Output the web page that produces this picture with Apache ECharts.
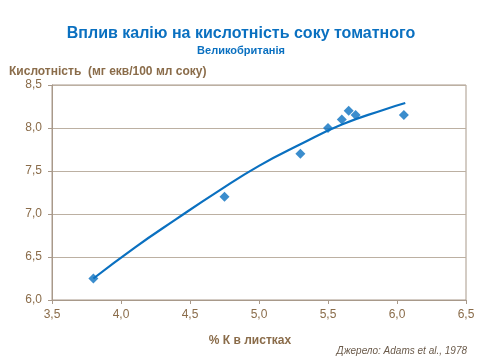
<!DOCTYPE html>
<html><head><meta charset="utf-8">
<script src="https://cdn.jsdelivr.net/npm/echarts@6/dist/echarts.min.js"></script>
<style>html,body{margin:0;padding:0;background:#fff}#c{width:480px;height:360px}</style>
</head><body><div id="c"></div>
<script>
var titleText = 'Вплив калію на кислотність соку томатного';
var subtitleText = 'Великобританія';
var yAxisName = 'Кислотність  (мг екв/100 мл соку)';
var xAxisName = '% К в листках';
var sourceText = 'Джерело: Adams et al., 1978';

var pointsK = [3.8, 4.75, 5.3, 5.5, 5.6, 5.65, 5.7, 6.05];
var pointsAcid = [6.25, 7.2, 7.7, 8.0, 8.1, 8.2, 8.15, 8.15];

var trendK = [3.8, 4.1, 4.4, 4.7, 5.0, 5.3, 5.6, 5.9, 6.06];
var trendAcid = [6.25, 6.61, 6.94, 7.26, 7.56, 7.81, 8.04, 8.21, 8.29];

var xMin = 3.5, xMax = 6.5, xStep = 0.5;
var yMin = 6.0, yMax = 8.5, yStep = 0.5;

var brown = '#8a6c4a';
var blue = '#0a70c0';
var lineCol = '#a8998a';
var fmt = function (v) { return v.toFixed(1).replace('.', ','); };

var chart = echarts.init(document.getElementById('c'));
chart.setOption({
  animation: false,
  backgroundColor: '#fff',
  title: [
    {text: titleText, left: 236, top: 21, textAlign: 'center',
     textStyle: {fontFamily: 'Liberation Sans, Arial', fontSize: 16, fontWeight: 'bold', color: blue}},
    {text: subtitleText, left: 236, top: 40, textAlign: 'center',
     textStyle: {fontFamily: 'Liberation Sans, Arial', fontSize: 11, fontWeight: 'bold', color: blue}},
    {text: yAxisName, left: 4, top: 61,
     textStyle: {fontFamily: 'Liberation Sans, Arial', fontSize: 12, fontWeight: 'bold', color: brown}},
    {text: xAxisName, left: 245, top: 330, textAlign: 'center',
     textStyle: {fontFamily: 'Liberation Sans, Arial', fontSize: 12, fontWeight: 'bold', color: brown}},
    {text: sourceText, right: 8, top: 341,
     textStyle: {fontFamily: 'Liberation Sans, Arial', fontSize: 10, fontStyle: 'italic', fontWeight: 'normal', color: '#6a5a4a'}}
  ],
  grid: {left: 52, right: 14, top: 85, bottom: 60, show: true, borderColor: lineCol, borderWidth: 1, backgroundColor: 'transparent'},
  xAxis: {
    type: 'value', min: xMin, max: xMax, interval: xStep,
    axisLine: {show: true, lineStyle: {color: lineCol, width: 1}},
    axisTick: {show: true, length: 4, lineStyle: {color: lineCol}},
    splitLine: {show: false},
    axisLabel: {color: brown, fontFamily: 'Liberation Sans, Arial', fontSize: 12, margin: 9, formatter: fmt}
  },
  yAxis: {
    type: 'value', min: yMin, max: yMax, interval: yStep,
    axisLine: {show: true, lineStyle: {color: lineCol, width: 1}},
    axisTick: {show: true, length: 4, lineStyle: {color: lineCol}},
    splitLine: {show: true, lineStyle: {color: '#bcb0a2', width: 1}},
    axisLabel: {color: brown, fontFamily: 'Liberation Sans, Arial', fontSize: 12, margin: 10, formatter: fmt}
  },
  series: [
    {type: 'line', data: trendK.map(function (k, i) { return [k, trendAcid[i]]; }),
     smooth: 0.5, showSymbol: false, lineStyle: {color: blue, width: 2.2}, z: 2},
    {type: 'scatter', data: pointsK.map(function (k, i) { return [k, pointsAcid[i]]; }),
     symbol: 'diamond', symbolSize: 10, itemStyle: {color: blue}, z: 3}
  ]
});
</script></body></html>
